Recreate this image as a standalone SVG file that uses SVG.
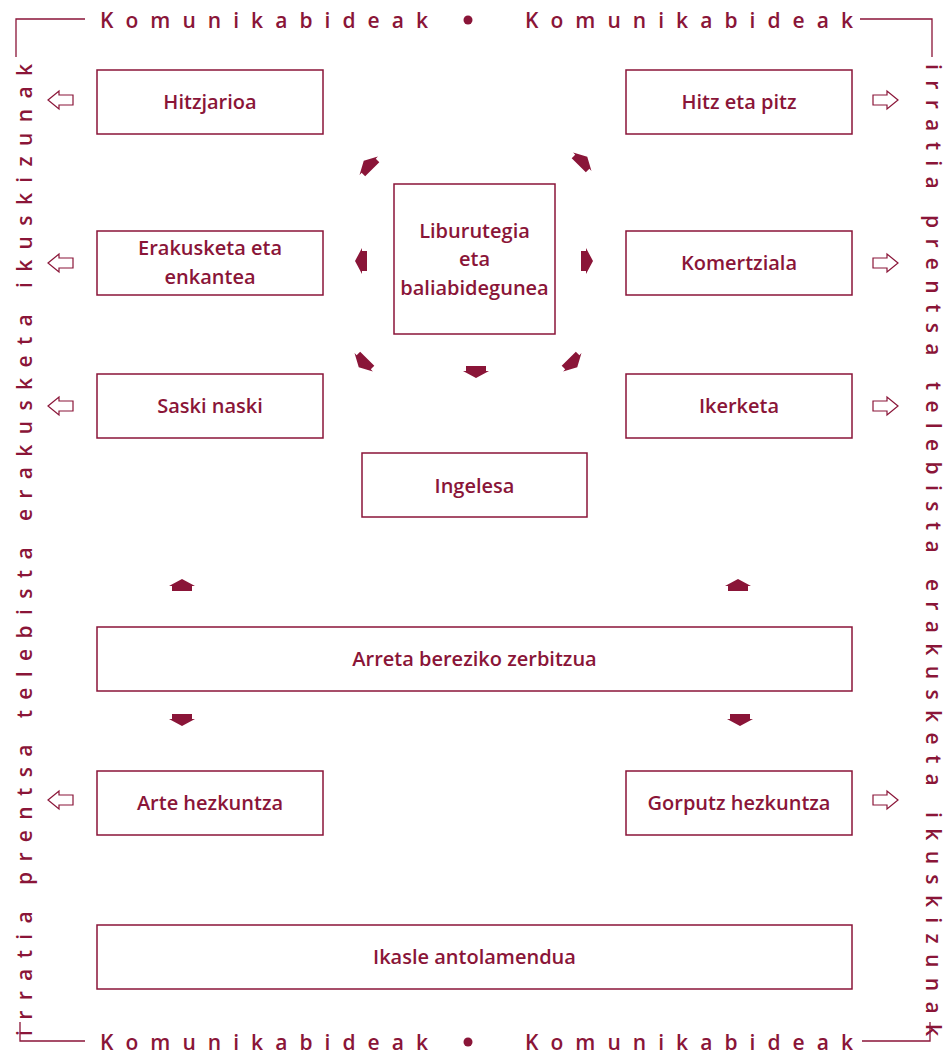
<svg xmlns="http://www.w3.org/2000/svg" width="947" height="1055" viewBox="0 0 947 1055">
<style>
.box{fill:#fff;stroke:#8a1538;stroke-width:1.5}
.lbl{font-family:"Open Sans","Noto Sans",sans-serif;font-weight:600;font-size:20px;fill:#8a1538;text-anchor:middle}
.frm{font-family:"Open Sans","Noto Sans",sans-serif;font-weight:600;font-size:21px;fill:#8a1538}
.fl{fill:none;stroke:#8a1538;stroke-width:1.3}
.ba{fill:#8a1538}
.oa{fill:#fff;stroke:#8a1538;stroke-width:1.2;stroke-linejoin:miter}
</style>
<defs>
<polygon id="blk" points="-6,-10 -1,-10 -1,-13 6,0 -1,13 -1,10 -6,10"/>
<polygon id="out" points="0,0 11,-9 11,-5 25,-5 25,5 11,5 11,9"/>
</defs>
<rect width="947" height="1055" fill="#fff"/>
<g id="frame">
<polyline class="fl" points="16,57 16,19 85,19"/>
<polyline class="fl" points="860,19 932,19 932,57"/>
<polyline class="fl" points="20,1022 20,1041 85,1041"/>
<polyline class="fl" points="862,1041 930,1041 930,1022"/>
<text class="frm" x="100" y="28" textLength="328" lengthAdjust="spacing">Komunikabideak</text>
<circle class="ba" cx="468" cy="20" r="4.5"/>
<text class="frm" x="525" y="28" textLength="328" lengthAdjust="spacing">Komunikabideak</text>
<text class="frm" x="100" y="1050" textLength="328" lengthAdjust="spacing">Komunikabideak</text>
<circle class="ba" cx="468" cy="1042" r="4.5"/>
<text class="frm" x="525" y="1050" textLength="328" lengthAdjust="spacing">Komunikabideak</text>
<text class="frm" transform="translate(32,1036) rotate(-90)" textLength="972" lengthAdjust="spacing">irratia prentsa telebista erakusketa ikuskizunak</text>
<text class="frm" transform="translate(926,64) rotate(90)" textLength="972" lengthAdjust="spacing">irratia prentsa telebista erakusketa ikuskizunak</text>
</g>
<g id="n-hitzjarioa"><rect class="box" x="97" y="70" width="226" height="64"/><text class="lbl" x="210" y="109">Hitzjarioa</text></g>
<g id="n-hitzetapitz"><rect class="box" x="626" y="70" width="226" height="64"/><text class="lbl" x="739" y="109">Hitz eta pitz</text></g>
<g id="n-erakusketa"><rect class="box" x="97" y="231" width="226" height="64"/><text class="lbl" x="210" y="255">Erakusketa eta</text><text class="lbl" x="210" y="284">enkantea</text></g>
<g id="n-liburutegia"><rect class="box" x="394" y="184" width="161" height="150"/><text class="lbl" x="474.5" y="238">Liburutegia</text><text class="lbl" x="474.5" y="266">eta</text><text class="lbl" x="474.5" y="295">baliabidegunea</text></g>
<g id="n-komertziala"><rect class="box" x="626" y="231" width="226" height="64"/><text class="lbl" x="739" y="270">Komertziala</text></g>
<g id="n-saski"><rect class="box" x="97" y="374" width="226" height="64"/><text class="lbl" x="210" y="413">Saski naski</text></g>
<g id="n-ikerketa"><rect class="box" x="626" y="374" width="226" height="64"/><text class="lbl" x="739" y="413">Ikerketa</text></g>
<g id="n-ingelesa"><rect class="box" x="362" y="453" width="225" height="64"/><text class="lbl" x="474.5" y="493">Ingelesa</text></g>
<g id="n-arreta"><rect class="box" x="97" y="627" width="755" height="64"/><text class="lbl" x="474.5" y="666">Arreta bereziko zerbitzua</text></g>
<g id="n-arte"><rect class="box" x="97" y="771" width="226" height="64"/><text class="lbl" x="210" y="810">Arte hezkuntza</text></g>
<g id="n-gorputz"><rect class="box" x="626" y="771" width="226" height="64"/><text class="lbl" x="739" y="810">Gorputz hezkuntza</text></g>
<g id="n-ikasle"><rect class="box" x="97" y="925" width="755" height="64"/><text class="lbl" x="474.5" y="964">Ikasle antolamendua</text></g>
<g id="connectors">
<use href="#blk" class="ba" transform="translate(368,165) rotate(-135)"/>
<use href="#blk" class="ba" transform="translate(583,161) rotate(-45)"/>
<use href="#blk" class="ba" transform="translate(361,261) rotate(180)"/>
<use href="#blk" class="ba" transform="translate(587,261)"/>
<use href="#blk" class="ba" transform="translate(363,363) rotate(135)"/>
<use href="#blk" class="ba" transform="translate(573,363) rotate(45)"/>
<use href="#blk" class="ba" transform="translate(476,372) rotate(90)"/>
<use href="#blk" class="ba" transform="translate(182,585) rotate(-90)"/>
<use href="#blk" class="ba" transform="translate(738,585) rotate(-90)"/>
<use href="#blk" class="ba" transform="translate(182,720) rotate(90)"/>
<use href="#blk" class="ba" transform="translate(740,720) rotate(90)"/>
<use href="#out" class="oa" transform="translate(48,100)"/>
<use href="#out" class="oa" transform="translate(48,263)"/>
<use href="#out" class="oa" transform="translate(48,406)"/>
<use href="#out" class="oa" transform="translate(48,800)"/>
<use href="#out" class="oa" transform="translate(898,100) scale(-1,1)"/>
<use href="#out" class="oa" transform="translate(898,263) scale(-1,1)"/>
<use href="#out" class="oa" transform="translate(898,406) scale(-1,1)"/>
<use href="#out" class="oa" transform="translate(898,800) scale(-1,1)"/>
</g>
</svg>
